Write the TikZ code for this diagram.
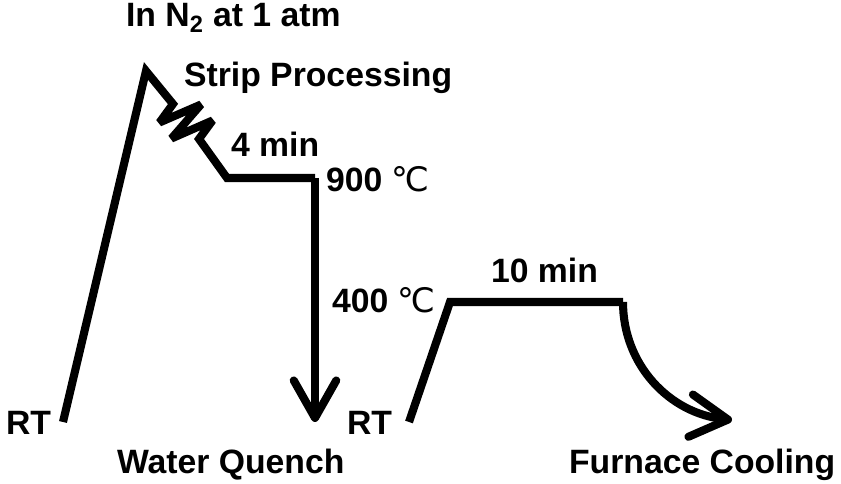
\documentclass[tikz,border=0pt]{standalone}
\usepackage{fontspec}
\setmainfont{Liberation Sans}
\newfontfamily\degfont{DejaVu Sans}
\usetikzlibrary{arrows.meta}
\newcommand{\degC}{{\degfont\mdseries ℃}}

\begin{document}
\begin{tikzpicture}[line width=4.6pt,line join=miter,miter limit=3,
  lbl/.style={font=\fontsize{19.2}{23}\selectfont\bfseries,inner sep=0pt,anchor=base west},
  barb/.style={-{Straight Barb[length=7.5mm,width=8.5mm,round]}}]
  \useasboundingbox(0,0)rectangle(16.82,9.68);
  % strip processing and water quench
  \coordinate(rtA)at(1.26,1.24);
  \coordinate(peak)at(2.92,8.26);
  \coordinate(holdA)at(4.54,6.12);
  \coordinate(holdB)at(6.30,6.12);
  \coordinate(quench)at(6.30,1.24);
  \draw(rtA)--(peak)--(3.46,7.60)--(3.19,7.23)--(4.02,7.59)--(3.43,6.91)--(4.25,7.27)--(3.98,6.90)--(holdA)--(holdB);
  \draw[barb](holdB)--(quench);
  % annealing and furnace cooling
  \coordinate(rtB)at(8.18,1.24);
  \coordinate(annA)at(9.00,3.64);
  \coordinate(annB)at(12.46,3.64);
  \coordinate(cool)at(14.64,1.28);
  \draw(rtB)--(annA)--(annB);
  \draw[barb](annB)to[out=-90,in=174](cool);
  % labels
  \node[lbl](atm)at(2.44,9.14){In N\textsubscript{2} at 1 atm};
  \node[lbl](strip)at(3.60,7.94){Strip Processing};
  \node[lbl](fourmin)at(4.54,6.54){4 min};
  \node[lbl](hot)at(6.44,5.84){900 \degC};
  \node[lbl](warm)at(6.56,3.42){400 \degC};
  \node[lbl](tenmin)at(9.74,4.02){10 min};
  \node[lbl](rtlA)at(0.04,0.98){RT};
  \node[lbl](rtlB)at(6.86,0.98){RT};
  \node[lbl](water)at(2.26,0.20){Water Quench};
  \node[lbl](furnace)at(11.30,0.20){Furnace Cooling};
\end{tikzpicture}
\end{document}
